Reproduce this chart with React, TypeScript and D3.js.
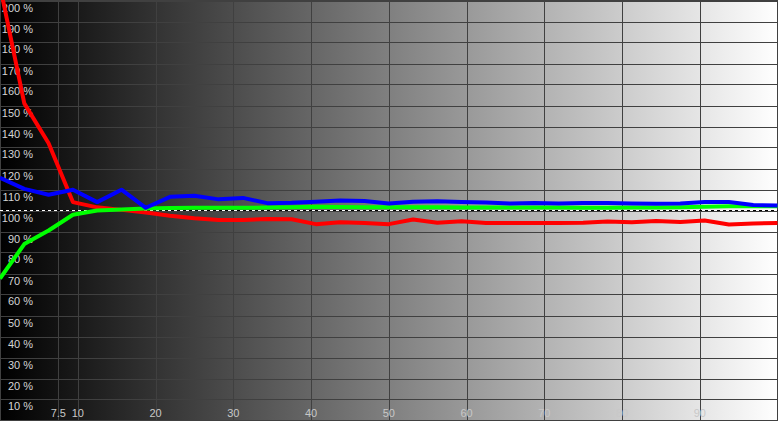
import * as d3 from "d3";

// stimulus level (% of white), 32 equal steps
const levels = d3.range(0, 33).map((i) => i * 3.125);

const redValues = [
  207, 151, 132, 104, 101.5, 100.3, 99, 97.5, 96.3, 95.5, 95.5, 96, 95.8, 93.5, 94.4, 94, 93.5, 95.7, 94.2, 94.9,
  94, 94, 94, 94, 94.2, 94.8, 94.4, 95, 94.5, 95.2, 93.3, 93.8, 94,
];
const greenValues = [
  67.6, 84, 90.5, 98, 100, 100.5, 101, 101.2, 101.3, 101.3, 101.3, 101.4, 101.5, 101.8, 101.7, 101.6, 101.5, 101.5,
  101.5, 101.4, 101.4, 101.4, 101.4, 101.4, 101.3, 101.3, 101.4, 101.4, 101.5, 101.8, 102, 102, 102,
];
const blueValues = [
  115.6, 110.3, 107.5, 109.9, 104, 109.9, 101.3, 106.5, 107, 105.3, 106, 103.5, 103.7, 104.2, 104.8, 104.5, 103.3,
  104.2, 104.4, 104, 103.8, 103.3, 103.6, 103.3, 103.6, 103.6, 103.3, 103.2, 103.3, 104, 104, 102.6, 102.4,
];

const xTicks = [7.5, 10, 20, 30, 40, 50, 60, 70, 80, 90];
const yTicks = d3.range(10, 201, 10);

const W = 778,
  H = 421;

export default function App() {
  const x = d3.scaleLinear().domain([0, 100]).range([0, 777.5]);
  const y = d3.scaleLinear().domain([0, 200]).range([420.5, 0.5]);

  const line = d3
    .line<number>()
    .x((_, i) => x(levels[i]))
    .y((d) => y(d));

  const series = [
    { values: redValues, color: "#ff0000" },
    { values: greenValues, color: "#00ff00" },
    { values: blueValues, color: "#0000ff" },
  ];

  const grid = "#404040";
  const font = "'Liberation Sans', Arial, sans-serif";

  return (
    <svg width={W} height={H} style={{ position: "absolute", left: 0, top: 0, display: "block" }}>
      <defs>
        <linearGradient id="bg" x1="0" x2="1" y1="0" y2="0">
          <stop offset="0" stopColor="#000" />
          <stop offset="1" stopColor="#fff" />
        </linearGradient>
        <clipPath id="plot">
          <rect x={0} y={0} width={W} height={H} />
        </clipPath>
      </defs>
      <rect x={0} y={0} width={W} height={H} fill="url(#bg)" />

      {yTicks.map((t) => (
        <line key={"h" + t} x1={0} x2={W} y1={Math.round(y(t)) + 0.5} y2={Math.round(y(t)) + 0.5} stroke={grid} />
      ))}
      {xTicks.map((t) => (
        <line key={"v" + t} x1={Math.round(x(t)) + 0.5} x2={Math.round(x(t)) + 0.5} y1={0} y2={H} stroke={grid} />
      ))}
      <rect x={0.5} y={0.5} width={W - 1} height={420} fill="none" stroke={grid} />

      {yTicks.map((t) => (
        <text
          key={"yl" + t}
          x={33}
          y={Math.round(y(t)) + 11}
          textAnchor="end"
          fontFamily={font}
          fontSize={11}
          fill="#d4d4d4"
        >
          {t} %
        </text>
      ))}
      {xTicks.map((t) => (
        <text
          key={"xl" + t}
          x={x(t)}
          y={417}
          textAnchor="middle"
          fontFamily={font}
          fontSize={11}
          fill="#c8c8c8"
        >
          {t}
        </text>
      ))}

      <line x1={0} x2={W} y1={y(100)} y2={y(100)} stroke="#000" strokeWidth={1} />
      <line x1={0} x2={W} y1={y(100)} y2={y(100)} stroke="#fff" strokeWidth={1} strokeDasharray="3,3" />

      <g clipPath="url(#plot)">
        {series.map((s) => (
          <path
            key={s.color}
            d={line(s.values) ?? ""}
            fill="none"
            stroke={s.color}
            strokeWidth={4}
            strokeLinejoin="round"
          />
        ))}
      </g>
    </svg>
  );
}
